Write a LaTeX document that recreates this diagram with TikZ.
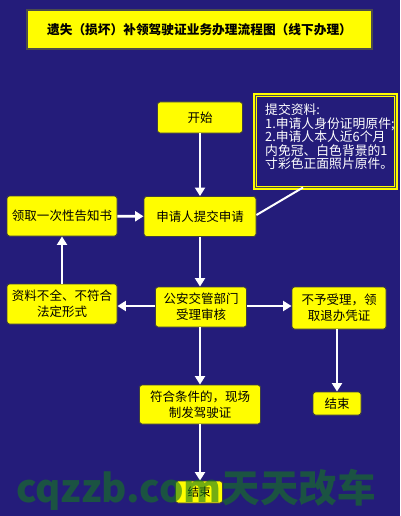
\documentclass[tikz,border=0pt]{standalone}
\usepackage{fontspec}
\setmainfont{Noto Sans CJK SC}
\usetikzlibrary{arrows.meta}
\definecolor{bg}{RGB}{36,28,122}
\definecolor{ybox}{RGB}{255,253,0}
\definecolor{wm}{RGB}{22,120,30}
\tikzset{
  ybox/.style={rectangle, rounded corners=2.5pt, fill=ybox, draw=black!75, line width=0.9pt,
    inner sep=0pt, align=center, font=\fontsize{12.5}{16}\selectfont, text=black},
  arr/.style={draw=white, line width=2.6pt, -{Triangle[width=10pt,length=8.5pt]}},
  lnk/.style={draw=white, line width=2pt}
}
\begin{document}
\begin{tikzpicture}[x=1pt,y=-1pt]
\useasboundingbox[fill=bg] (0,0) rectangle (400,516);
% title
\node[ybox, rounded corners=0pt, draw=gray!60!black, line width=1.5pt, minimum width=345pt, minimum height=39pt,
  font=\fontsize{12.7}{15}\selectfont\bfseries] (title) at (199.5,29.5) {遗失（损坏）补领驾驶证业务办理流程图（线下办理）};
% nodes
\node[ybox, minimum width=85pt, minimum height=31pt] (start) at (200,117.5) {开始};
\node[ybox, minimum width=112pt, minimum height=40pt] (apply) at (200,216.5) {申请人提交申请};
\node[ybox, minimum width=110pt, minimum height=40pt] (notice) at (62,216) {领取一次性告知书};
\node[ybox, minimum width=110pt, minimum height=40pt] (incomplete) at (62,304) {资料不全、不符合\\法定形式};
\node[ybox, minimum width=91pt, minimum height=40pt] (review) at (201,307) {公安交管部门\\受理审核};
\node[ybox, minimum width=94pt, minimum height=42pt] (reject) at (339,308) {不予受理，领\\取退办凭证};
\node[ybox, minimum width=48pt, minimum height=23pt] (end1) at (337,403.5) {结束};
\node[ybox, minimum width=121pt, minimum height=39pt] (issue) at (200,404.5) {符合条件的，现场\\制发驾驶证};
\node[ybox, minimum width=47pt, minimum height=22pt, font=\fontsize{11.5}{14}\selectfont] (end2) at (199,492) {结束};
% note box
\node[rectangle, fill=bg, draw=ybox, line width=4.5pt, minimum width=141pt, minimum height=93pt, inner sep=0pt] (note) at (325.5,141.5) {};
\draw[black!70, line width=0.6pt] ([shift={(2.5pt,-2.5pt)}]note.north west) rectangle ([shift={(-2.5pt,2.5pt)}]note.south east);
\node[anchor=north west, text=white, align=left, inner sep=0pt, font=\fontsize{12.8}{13.6}\selectfont] (notetext) at (265,103.5)
  {提交资料:\\1.申请人身份证明原件;\\2.申请人本人近6个月\\内免冠、白色背景的1\\寸彩色正面照片原件。};
% connectors
\draw[arr] (start) -- (apply);
\draw[arr] (notice) -- (apply);
\draw[arr] (apply) -- (review.north -| apply);
\draw[arr] (review.west |- 0,306) -- (incomplete.east |- 0,306);
\draw[arr] (incomplete) -- (notice);
\draw[arr] (review.east |- 0,306) -- (reject.west |- 0,306);
\draw[arr] (reject.south -| end1) -- (end1);
\draw[arr] (review.south -| issue) -- (issue);
\draw[arr] (issue) -- (end2.north -| issue);
\coordinate (notefoot) at (303,187.5);
\draw[lnk] (apply.east |- 0,215) -- (notefoot);
% watermark
\node[anchor=west, inner sep=0pt, text=wm, opacity=0.6, font=\fontsize{38.5}{40}\selectfont\bfseries] (wmark) at (16,490) {cqzzb.com天天改车};
\end{tikzpicture}
\end{document}
